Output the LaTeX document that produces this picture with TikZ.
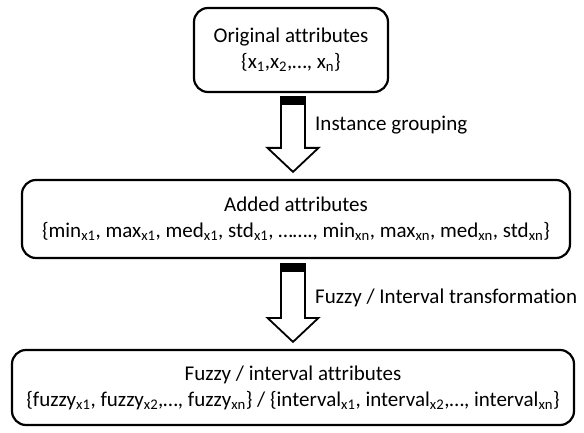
\documentclass[tikz,border=0pt]{standalone}
\usepackage{fontspec}
\setmainfont[Ligatures=NoCommon]{Carlito}
\usetikzlibrary{calc}
\begin{document}
\begin{tikzpicture}[x=1pt,y=-1pt,
  box/.style={draw, line width=2.2pt, rounded corners=14pt, align=center,
              font=\fontsize{21}{26}\selectfont, inner sep=0pt},
  lbl/.style={font=\fontsize{21}{24}\selectfont, anchor=west, inner sep=0pt},
  fatarrow/.style={draw, line width=1.8pt, fill=white, line join=miter},
  tailbar/.style={fill=black}]
\useasboundingbox (0,0) rectangle (584,433);
\node[box, minimum width=194pt, minimum height=84pt] (b1) at (291,50)
  {Original attributes\\\{x\textsubscript{1},x\textsubscript{2},…, x\textsubscript{n}\}};
\node[box, minimum width=548pt, minimum height=78pt] (b2) at (296,219)
  {Added attributes\\\{min\textsubscript{x1}, max\textsubscript{x1}, med\textsubscript{x1}, std\textsubscript{x1}, ……., min\textsubscript{xn}, max\textsubscript{xn}, med\textsubscript{xn}, std\textsubscript{xn}\}};
\node[box, minimum width=562pt, minimum height=75pt] (b3) at (293,387.5)
  {Fuzzy / interval attributes\\\{fuzzy\textsubscript{x1}, fuzzy\textsubscript{x2},…, fuzzy\textsubscript{xn}\} / \{interval\textsubscript{x1}, interval\textsubscript{x2},…, interval\textsubscript{xn}\}};
\coordinate (ax) at (293,0);
% arrow 1
\coordinate (s1) at ($(ax |- b1.south)+(0,4)$);
\coordinate (e1) at ($(ax |- b2.north)+(0,-7)$);
\draw[fatarrow] ($(s1)+(-12,0)$) -- ($(e1)+(-12,-24)$) -- ($(e1)+(-25.5,-24)$) -- (e1)
  -- ($(e1)+(25.5,-24)$) -- ($(e1)+(12,-24)$) -- ($(s1)+(12,0)$) -- cycle;
\fill[tailbar] ($(s1)+(-12,0)$) rectangle ($(s1)+(12,8)$);
\node[lbl] (l1) at (315,125) {Instance grouping};
% arrow 2
\coordinate (s2) at ($(ax |- b2.south)+(0,5)$);
\coordinate (e2) at ($(ax |- b3.north)+(0,-7)$);
\draw[fatarrow] ($(s2)+(-12,0)$) -- ($(e2)+(-12,-24)$) -- ($(e2)+(-25.5,-24)$) -- (e2)
  -- ($(e2)+(25.5,-24)$) -- ($(e2)+(12,-24)$) -- ($(s2)+(12,0)$) -- cycle;
\fill[tailbar] ($(s2)+(-12,0)$) rectangle ($(s2)+(12,8)$);
\node[lbl] (l2) at (315,298) {Fuzzy / Interval transformation};
\end{tikzpicture}
\end{document}
